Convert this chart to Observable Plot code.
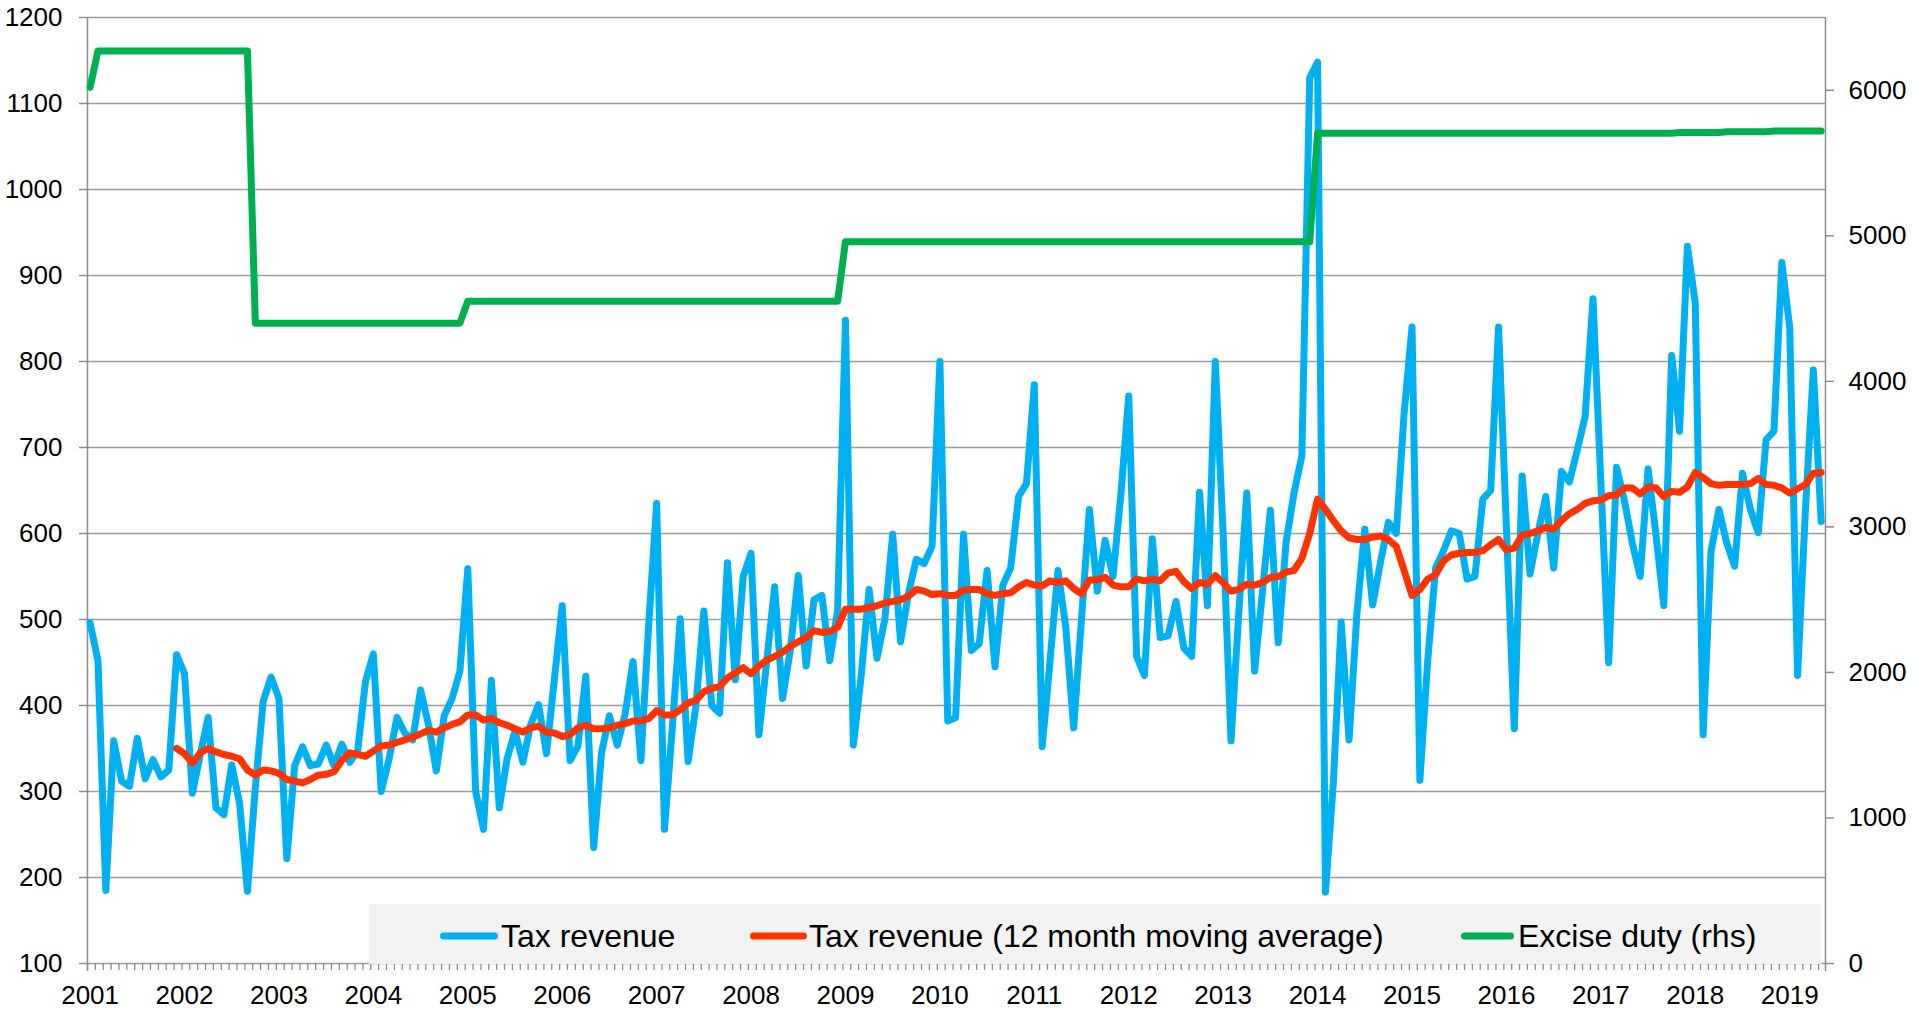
<!DOCTYPE html>
<html>
<head>
<meta charset="utf-8">
<script src="https://cdn.jsdelivr.net/npm/d3@7"></script>
<script src="https://cdn.jsdelivr.net/npm/@observablehq/plot@0.6"></script>
<style>
html,body{margin:0;padding:0;background:#fff;}
#wrap{position:relative;width:1915px;height:1009px;overflow:hidden;font-family:"Liberation Sans",Arial,sans-serif;}
#wrap svg{position:absolute;left:0;top:0;}
</style>
</head>
<body>
<div id="wrap"></div>
<script>
// Monthly tax revenue, Jan 2001 .. May 2019 (left axis)
const taxRevenue = [
  496,452,185,359,312,306,362,315,337,317,325,459,
  437,298,343,386,281,273,331,286,184,305,405,433,
  408,222,330,352,330,332,354,330,355,334,347,428,
  460,300,338,386,368,360,418,378,324,388,408,440,
  559,300,256,429,281,338,370,334,378,401,344,430,
  516,336,353,434,235,345,388,354,390,451,336,495,
  635,256,375,501,335,400,510,400,391,566,430,550,
  577,366,452,538,408,465,551,446,523,528,452,510,
  848,354,435,535,455,500,599,474,530,570,565,585,
  800,382,386,599,464,472,557,445,540,560,643,658,
  773,352,452,557,491,374,501,628,533,592,550,645,
  760,457,435,594,479,481,521,467,457,648,516,800,
  599,359,510,647,440,533,627,473,590,647,690,1130,
  1148,183,310,497,360,507,605,517,567,613,600,740,
  840,313,453,560,580,603,600,547,550,640,650,840,
  607,373,667,553,600,643,560,672,660,697,736,873,
  660,450,677,638,589,550,675,599,516,807,719,934,
  868,366,579,628,589,562,670,628,601,709,719,915,
  840,435,628,790,614
];
// 12 month moving average, Dec 2001 .. May 2019 (left axis)
const movingAverageStart = 11;
const movingAverage = [
  350,
  344,333,345,350,346,343,341,338,325,319,325,324,
  321,314,312,310,314,319,320,323,336,345,343,341,
  347,353,354,357,360,363,367,371,369,374,378,381,
  389,389,383,385,380,377,373,369,374,376,369,368,
  364,366,374,377,373,373,374,377,379,382,382,385,
  394,389,389,395,403,406,416,420,422,432,438,444,
  437,446,453,457,462,469,474,479,487,485,486,491,
  512,512,512,514,516,519,521,523,527,535,533,529,
  530,528,528,534,535,535,530,528,530,531,538,543,
  540,539,545,543,545,536,530,546,546,549,540,538,
  538,547,545,547,545,554,556,544,536,543,541,551,
  543,533,535,541,540,543,549,550,555,557,571,600,
  640,628,615,603,595,593,593,596,597,593,585,557,
  528,535,547,552,568,575,577,578,578,580,587,593,
  581,583,598,600,603,607,605,615,623,628,635,638,
  639,644,645,653,653,646,654,653,643,649,648,654,
  671,665,658,656,657,657,657,658,664,657,656,653,
  647,652,657,670,671
];
// Excise duty, Jan 2001 .. May 2019 (right axis)
const exciseDuty = [
  6020,6270,6270,6270,6270,6270,6270,6270,6270,6270,6270,6270,
  6270,6270,6270,6270,6270,6270,6270,6270,6270,4400,4400,4400,
  4400,4400,4400,4400,4400,4400,4400,4400,4400,4400,4400,4400,
  4400,4400,4400,4400,4400,4400,4400,4400,4400,4400,4400,4400,
  4550,4550,4550,4550,4550,4550,4550,4550,4550,4550,4550,4550,
  4550,4550,4550,4550,4550,4550,4550,4550,4550,4550,4550,4550,
  4550,4550,4550,4550,4550,4550,4550,4550,4550,4550,4550,4550,
  4550,4550,4550,4550,4550,4550,4550,4550,4550,4550,4550,4550,
  4960,4960,4960,4960,4960,4960,4960,4960,4960,4960,4960,4960,
  4960,4960,4960,4960,4960,4960,4960,4960,4960,4960,4960,4960,
  4960,4960,4960,4960,4960,4960,4960,4960,4960,4960,4960,4960,
  4960,4960,4960,4960,4960,4960,4960,4960,4960,4960,4960,4960,
  4960,4960,4960,4960,4960,4960,4960,4960,4960,4960,4960,4960,
  5705,5705,5705,5705,5705,5705,5705,5705,5705,5705,5705,5705,
  5705,5705,5705,5705,5705,5705,5705,5705,5705,5705,5705,5705,
  5705,5705,5705,5705,5705,5705,5705,5705,5705,5705,5705,5705,
  5705,5705,5705,5705,5705,5705,5705,5705,5705,5705,5710,5710,
  5710,5710,5710,5710,5715,5715,5715,5715,5715,5715,5720,5720,
  5720,5720,5720,5720,5720
];
const yearLabels = ["2001","2002","2003","2004","2005","2006","2007","2008","2009","2010",
                    "2011","2012","2013","2014","2015","2016","2017","2018","2019"];
const leftTicks = [100,200,300,400,500,600,700,800,900,1000,1100,1200];
const rightTicks = [0,1000,2000,3000,4000,5000,6000];
const seriesNames = ["Tax revenue","Tax revenue (12 month moving average)","Excise duty (rhs)"];
const seriesColors = ["#00B0F0","#FF3300","#00B050"];

// tables built from the arrays
const taxRows = taxRevenue.map((v, i) => ({m: i, v}));
const maRows = movingAverage.map((v, i) => ({m: i + movingAverageStart, v}));
const exciseRows = exciseDuty.map((v, i) => ({m: i, v}));
const yearTicks = yearLabels.map((_, k) => k * 12);
const monthTicks = d3.range(taxRevenue.length).map(i => i - 0.33);

const W = 1915, H = 1009;
const xScale = {type: "linear", domain: [-0.33, 220.55]};
const frame = {width: W, height: H, marginTop: 17, marginBottom: 46, marginLeft: 87, marginRight: 90,
  style: {fontFamily: "'Liberation Sans', Arial, sans-serif", fontSize: "26px", color: "#000", background: "transparent", overflow: "visible"}};
const axisGray = "#8c8c8c";
const gridGray = "#9c9c9c";
const lineOpts = {strokeWidth: 7, strokeLinejoin: "round", strokeLinecap: "round"};

const left = Plot.plot({
  ...frame,
  x: xScale,
  y: {domain: [100, 1200]},
  marks: [
    Plot.ruleY(leftTicks, {stroke: gridGray, strokeWidth: 1.5}),
    Plot.ruleX([xScale.domain[0]], {stroke: axisGray, strokeWidth: 1.5, insetBottom: -8}),
    Plot.axisY({ticks: leftTicks, tickSize: 8, tickPadding: 17, stroke: axisGray, strokeWidth: 1.5, fill: "#000", fontSize: 26, label: null, tickFormat: d => String(d)}),
    Plot.axisX({ticks: monthTicks, tickSize: 7, stroke: axisGray, strokeWidth: 1.3, tickFormat: () => "", label: null}),
    Plot.axisX({ticks: yearTicks, tickSize: 0, tickPadding: 22, fill: "#000", fontSize: 26, label: null, tickFormat: d => yearLabels[Math.round(d / 12)]}),
    Plot.line(taxRows, {x: "m", y: "v", stroke: seriesColors[0], ...lineOpts}),
    Plot.line(maRows, {x: "m", y: "v", stroke: seriesColors[1], ...lineOpts})
  ]
});

const right = Plot.plot({
  ...frame,
  x: {...xScale, axis: null},
  y: {domain: [0, 6500]},
  marks: [
    Plot.ruleX([xScale.domain[1]], {stroke: axisGray, strokeWidth: 1.5, insetBottom: -8}),
    Plot.axisY({anchor: "right", ticks: rightTicks, tickSize: 8, tickPadding: 15, stroke: axisGray, strokeWidth: 1.5, fill: "#000", fontSize: 26, label: null, tickFormat: d => String(d)}),
    Plot.line(exciseRows, {x: "m", y: "v", stroke: seriesColors[2], ...lineOpts})
  ]
});

const wrap = document.getElementById("wrap");
wrap.appendChild(left);
wrap.appendChild(right);

// legend box inside the plot area
const legendItems = [
  {x1: 443.5, x2: 494.5, tx: 501},
  {x1: 753.5, x2: 803.5, tx: 809},
  {x1: 1464.5, x2: 1510.5, tx: 1518}
];
const lg = d3.create("svg").attr("width", W).attr("height", H)
  .style("font-family", "'Liberation Sans', Arial, sans-serif");
lg.append("rect").attr("x", 369).attr("y", 904).attr("width", 1452).attr("height", 60).attr("fill", "#f2f2f2");
legendItems.forEach((it, k) => {
  lg.append("line").attr("x1", it.x1).attr("x2", it.x2).attr("y1", 936).attr("y2", 936)
    .attr("stroke", seriesColors[k]).attr("stroke-width", 7).attr("stroke-linecap", "round");
  lg.append("text").attr("x", it.tx).attr("y", 946.5).attr("font-size", 32).attr("fill", "#000").text(seriesNames[k]);
});
wrap.appendChild(lg.node());
</script>
</body>
</html>
